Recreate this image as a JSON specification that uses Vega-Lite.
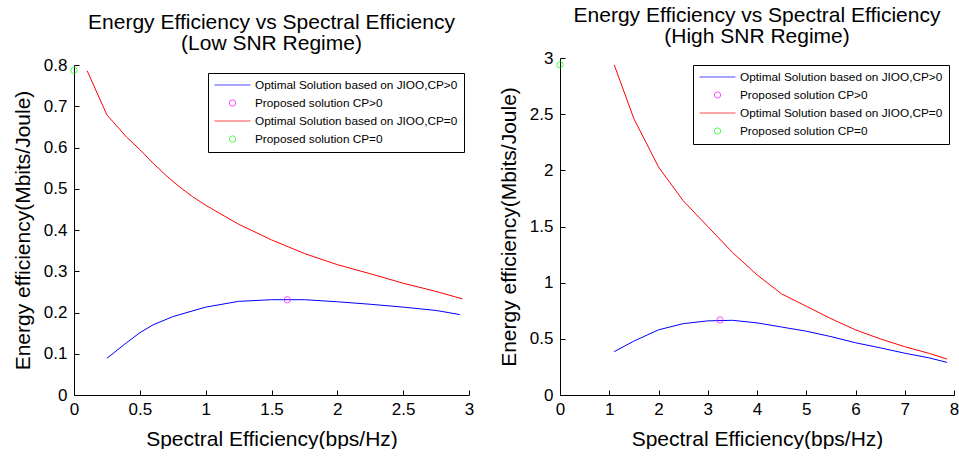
{
  "$schema": "https://vega.github.io/schema/vega-lite/v6.json",
  "padding": {"left": 12, "top": 5, "right": 0, "bottom": 0},
  "background": "white",
  "config": {
    "font": "Liberation Sans",
    "view": {"stroke": null},
    "axis": {
      "grid": false,
      "domainColor": "black",
      "tickColor": "black",
      "labelColor": "black",
      "titleColor": "black",
      "labelFontSize": 17,
      "titleFontSize": 21,
      "titleFontWeight": "normal",
      "tickSize": -5,
      "labelFlush": false,
      "labelPadding": 11
    },
    "axisX": {"titlePadding": 11},
    "axisY": {"titlePadding": 10, "labelPadding": 12},
    "title": {"fontSize": 21, "fontWeight": "normal", "color": "black", "anchor": "middle", "lineHeight": 21, "offset": 2},
    "legend": {
      "labelFontSize": 11.8,
      "labelColor": "black",
      "labelLimit": 0,
      "labelOffset": 4,
      "strokeColor": "black",
      "fillColor": "white",
      "padding": 6,
      "rowPadding": 5,
      "clipHeight": 12,
      "symbolStrokeWidth": 1
    }
  },
  "datasets": {
    "low": [
      {"x": 0.1, "y": 0.786, "series": "Optimal Solution based on JIOO,CP=0"},
      {"x": 0.25, "y": 0.679, "series": "Optimal Solution based on JIOO,CP=0"},
      {"x": 0.4, "y": 0.625, "series": "Optimal Solution based on JIOO,CP=0"},
      {"x": 0.5, "y": 0.595, "series": "Optimal Solution based on JIOO,CP=0"},
      {"x": 0.6, "y": 0.562, "series": "Optimal Solution based on JIOO,CP=0"},
      {"x": 0.7, "y": 0.532, "series": "Optimal Solution based on JIOO,CP=0"},
      {"x": 0.8, "y": 0.505, "series": "Optimal Solution based on JIOO,CP=0"},
      {"x": 0.9, "y": 0.481, "series": "Optimal Solution based on JIOO,CP=0"},
      {"x": 1.0, "y": 0.46, "series": "Optimal Solution based on JIOO,CP=0"},
      {"x": 1.25, "y": 0.414, "series": "Optimal Solution based on JIOO,CP=0"},
      {"x": 1.5, "y": 0.376, "series": "Optimal Solution based on JIOO,CP=0"},
      {"x": 1.75, "y": 0.343, "series": "Optimal Solution based on JIOO,CP=0"},
      {"x": 2.0, "y": 0.316, "series": "Optimal Solution based on JIOO,CP=0"},
      {"x": 2.25, "y": 0.294, "series": "Optimal Solution based on JIOO,CP=0"},
      {"x": 2.5, "y": 0.271, "series": "Optimal Solution based on JIOO,CP=0"},
      {"x": 2.75, "y": 0.251, "series": "Optimal Solution based on JIOO,CP=0"},
      {"x": 2.95, "y": 0.233, "series": "Optimal Solution based on JIOO,CP=0"},
      {"x": 0.25, "y": 0.089, "series": "Optimal Solution based on JIOO,CP>0"},
      {"x": 0.4, "y": 0.127, "series": "Optimal Solution based on JIOO,CP>0"},
      {"x": 0.5, "y": 0.151, "series": "Optimal Solution based on JIOO,CP>0"},
      {"x": 0.6, "y": 0.17, "series": "Optimal Solution based on JIOO,CP>0"},
      {"x": 0.75, "y": 0.19, "series": "Optimal Solution based on JIOO,CP>0"},
      {"x": 1.0, "y": 0.213, "series": "Optimal Solution based on JIOO,CP>0"},
      {"x": 1.25, "y": 0.227, "series": "Optimal Solution based on JIOO,CP>0"},
      {"x": 1.5, "y": 0.231, "series": "Optimal Solution based on JIOO,CP>0"},
      {"x": 1.75, "y": 0.231, "series": "Optimal Solution based on JIOO,CP>0"},
      {"x": 2.0, "y": 0.226, "series": "Optimal Solution based on JIOO,CP>0"},
      {"x": 2.25, "y": 0.22, "series": "Optimal Solution based on JIOO,CP>0"},
      {"x": 2.5, "y": 0.213, "series": "Optimal Solution based on JIOO,CP>0"},
      {"x": 2.75, "y": 0.205, "series": "Optimal Solution based on JIOO,CP>0"},
      {"x": 2.93, "y": 0.195, "series": "Optimal Solution based on JIOO,CP>0"},
      {"x": 1.62, "y": 0.231, "series": "Proposed solution CP>0"},
      {"x": 0.0, "y": 0.787, "series": "Proposed solution CP=0"}
    ],
    "high": [
      {"x": 1.1, "y": 2.94, "series": "Optimal Solution based on JIOO,CP=0"},
      {"x": 1.5, "y": 2.46, "series": "Optimal Solution based on JIOO,CP=0"},
      {"x": 2.0, "y": 2.03, "series": "Optimal Solution based on JIOO,CP=0"},
      {"x": 2.5, "y": 1.73, "series": "Optimal Solution based on JIOO,CP=0"},
      {"x": 3.0, "y": 1.5, "series": "Optimal Solution based on JIOO,CP=0"},
      {"x": 3.5, "y": 1.27, "series": "Optimal Solution based on JIOO,CP=0"},
      {"x": 4.0, "y": 1.07, "series": "Optimal Solution based on JIOO,CP=0"},
      {"x": 4.5, "y": 0.9, "series": "Optimal Solution based on JIOO,CP=0"},
      {"x": 5.0, "y": 0.79, "series": "Optimal Solution based on JIOO,CP=0"},
      {"x": 5.5, "y": 0.68, "series": "Optimal Solution based on JIOO,CP=0"},
      {"x": 6.0, "y": 0.58, "series": "Optimal Solution based on JIOO,CP=0"},
      {"x": 6.5, "y": 0.5, "series": "Optimal Solution based on JIOO,CP=0"},
      {"x": 7.0, "y": 0.43, "series": "Optimal Solution based on JIOO,CP=0"},
      {"x": 7.5, "y": 0.37, "series": "Optimal Solution based on JIOO,CP=0"},
      {"x": 7.86, "y": 0.32, "series": "Optimal Solution based on JIOO,CP=0"},
      {"x": 1.1, "y": 0.386, "series": "Optimal Solution based on JIOO,CP>0"},
      {"x": 1.5, "y": 0.48, "series": "Optimal Solution based on JIOO,CP>0"},
      {"x": 2.0, "y": 0.58, "series": "Optimal Solution based on JIOO,CP>0"},
      {"x": 2.5, "y": 0.635, "series": "Optimal Solution based on JIOO,CP>0"},
      {"x": 3.0, "y": 0.66, "series": "Optimal Solution based on JIOO,CP>0"},
      {"x": 3.5, "y": 0.665, "series": "Optimal Solution based on JIOO,CP>0"},
      {"x": 4.0, "y": 0.642, "series": "Optimal Solution based on JIOO,CP>0"},
      {"x": 4.5, "y": 0.605, "series": "Optimal Solution based on JIOO,CP>0"},
      {"x": 5.0, "y": 0.568, "series": "Optimal Solution based on JIOO,CP>0"},
      {"x": 5.5, "y": 0.52, "series": "Optimal Solution based on JIOO,CP>0"},
      {"x": 6.0, "y": 0.465, "series": "Optimal Solution based on JIOO,CP>0"},
      {"x": 6.5, "y": 0.42, "series": "Optimal Solution based on JIOO,CP>0"},
      {"x": 7.0, "y": 0.372, "series": "Optimal Solution based on JIOO,CP>0"},
      {"x": 7.5, "y": 0.33, "series": "Optimal Solution based on JIOO,CP>0"},
      {"x": 7.86, "y": 0.29, "series": "Optimal Solution based on JIOO,CP>0"},
      {"x": 3.25, "y": 0.668, "series": "Proposed solution CP>0"},
      {"x": 0.0, "y": 2.94, "series": "Proposed solution CP=0"}
    ]
  },
  "hconcat": [
    {
      "title": {"text": ["Energy Efficiency vs Spectral Efficiency", "(Low SNR Regime)"]},
      "width": 395,
      "height": 337,
      "data": {"name": "low"},
      "encoding": {
        "x": {"field": "x", "type": "quantitative", "title": "Spectral Efficiency(bps/Hz)", "scale": {"domain": [0, 3], "nice": false}, "axis": {"values": [0, 0.5, 1, 1.5, 2, 2.5, 3], "format": "~g"}},
        "y": {"field": "y", "type": "quantitative", "title": "Energy efficiency(Mbits/Joule)", "scale": {"domain": [0, 0.8], "nice": false, "range": [337, 7]}, "axis": {"values": [0, 0.1, 0.2, 0.3, 0.4, 0.5, 0.6, 0.7, 0.8], "format": "~g"}},
        "color": {
          "field": "series", "type": "nominal", "title": null,
          "scale": {"domain": ["Optimal Solution based on JIOO,CP>0", "Proposed solution CP>0", "Optimal Solution based on JIOO,CP=0", "Proposed solution CP=0"], "range": ["#0000ff", "#ff00ff", "#ff0000", "#00ff00"]},
          "legend": {"orient": "none", "legendX": 134, "legendY": 15}
        }
      },
      "layer": [
        {"transform": [{"filter": "indexof(datum.series, 'Optimal') >= 0"}], "mark": {"type": "line", "strokeWidth": 1}},
        {
          "transform": [{"filter": "indexof(datum.series, 'Proposed') >= 0"}],
          "mark": {"type": "point", "filled": false, "strokeWidth": 1},
          "encoding": {
            "shape": {"field": "series", "type": "nominal", "title": null, "scale": {"domain": ["Optimal Solution based on JIOO,CP>0", "Proposed solution CP>0", "Optimal Solution based on JIOO,CP=0", "Proposed solution CP=0"], "range": ["stroke", "circle", "stroke", "circle"]}, "legend": {"orient": "none", "legendX": 134, "legendY": 15}},
            "size": {"field": "series", "type": "nominal", "title": null, "scale": {"type": "ordinal", "domain": ["Optimal Solution based on JIOO,CP>0", "Proposed solution CP>0", "Optimal Solution based on JIOO,CP=0", "Proposed solution CP=0"], "range": [1296, 40, 1296, 40]}, "legend": {"orient": "none", "legendX": 134, "legendY": 15}}
          }
        }
      ]
    },
    {
      "title": {"text": ["Energy Efficiency vs Spectral Efficiency", "(High SNR Regime)"]},
      "width": 394,
      "height": 337,
      "data": {"name": "high"},
      "encoding": {
        "x": {"field": "x", "type": "quantitative", "title": "Spectral Efficiency(bps/Hz)", "scale": {"domain": [0, 8], "nice": false}, "axis": {"values": [0, 1, 2, 3, 4, 5, 6, 7, 8], "format": "~g"}},
        "y": {"field": "y", "type": "quantitative", "title": "Energy efficiency(Mbits/Joule)", "scale": {"domain": [0, 3], "nice": false}, "axis": {"values": [0, 0.5, 1, 1.5, 2, 2.5, 3], "format": "~g"}},
        "color": {
          "field": "series", "type": "nominal", "title": null,
          "scale": {"domain": ["Optimal Solution based on JIOO,CP>0", "Proposed solution CP>0", "Optimal Solution based on JIOO,CP=0", "Proposed solution CP=0"], "range": ["#0000ff", "#ff00ff", "#ff0000", "#00ff00"]},
          "legend": {"orient": "none", "legendX": 133, "legendY": 7}
        }
      },
      "layer": [
        {"transform": [{"filter": "indexof(datum.series, 'Optimal') >= 0"}], "mark": {"type": "line", "strokeWidth": 1}},
        {
          "transform": [{"filter": "indexof(datum.series, 'Proposed') >= 0"}],
          "mark": {"type": "point", "filled": false, "strokeWidth": 1},
          "encoding": {
            "shape": {"field": "series", "type": "nominal", "title": null, "scale": {"domain": ["Optimal Solution based on JIOO,CP>0", "Proposed solution CP>0", "Optimal Solution based on JIOO,CP=0", "Proposed solution CP=0"], "range": ["stroke", "circle", "stroke", "circle"]}, "legend": {"orient": "none", "legendX": 133, "legendY": 7}},
            "size": {"field": "series", "type": "nominal", "title": null, "scale": {"type": "ordinal", "domain": ["Optimal Solution based on JIOO,CP>0", "Proposed solution CP>0", "Optimal Solution based on JIOO,CP=0", "Proposed solution CP=0"], "range": [1296, 40, 1296, 40]}, "legend": {"orient": "none", "legendX": 133, "legendY": 7}}
          }
        }
      ]
    }
  ],
  "resolve": {"scale": {"color": "independent", "shape": "independent", "size": "independent"}},
  "spacing": 24
}
